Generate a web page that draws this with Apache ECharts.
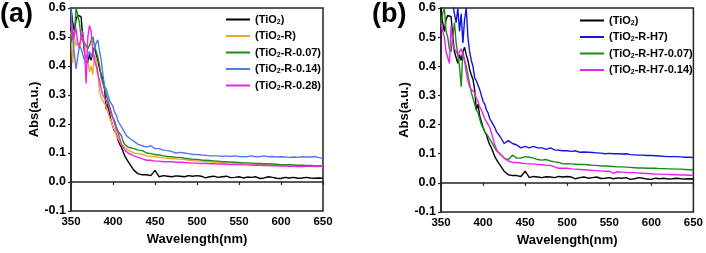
<!DOCTYPE html>
<html><head><meta charset="utf-8">
<script src="https://cdn.jsdelivr.net/npm/echarts@6/dist/echarts.min.js"></script>
<style>html,body{margin:0;padding:0;background:#fff}#c{width:706px;height:253px}</style>
</head><body><div id="c"></div>
<script>
// Wavelength grid (nm)
const wavelength = [350,352,354,356,358,360,362,364,366,368,370,372,374,376,378,380,382,384,386,388,390,392,394,396,398,400,402,404,406,408,410,412,414,416,418,420,
425,430,435,440,445,450,455,460,465,470,475,480,485,490,495,500,505,510,515,520,525,530,535,540,545,550,555,560,565,570,575,580,585,590,595,600,605,610,615,620,625,630,635,640,645,650];

const xTicks = [350,400,450,500,550,600,650];
const yTicks = [-0.1,0,0.1,0.2,0.3,0.4,0.5,0.6];

// Panel (a)
const tio2 = [0.60,0.55,0.52,0.56,0.575,0.575,0.57,0.50,0.45,0.43,0.41,0.44,0.42,0.45,0.465,0.44,0.42,0.39,0.37,0.355,0.32,0.25,0.27,0.23,0.21,0.19,0.175,0.165,0.145,0.13,0.12,0.105,0.09,0.08,0.07,0.062,
0.04,0.028,0.025,0.025,0.022,0.04,0.018,0.022,0.02,0.018,0.021,0.02,0.018,0.022,0.02,0.022,0.02,0.014,0.018,0.02,0.016,0.018,0.02,0.015,0.016,0.018,0.014,0.017,0.016,0.018,0.012,0.014,0.018,0.016,0.013,0.012,0.016,0.014,0.016,0.013,0.014,0.016,0.014,0.013,0.014,0.013];
const tio2R = [0.52,0.41,0.50,0.47,0.48,0.46,0.49,0.50,0.47,0.43,0.42,0.38,0.40,0.37,0.44,0.42,0.38,0.31,0.29,0.28,0.27,0.26,0.24,0.22,0.21,0.19,0.18,0.16,0.15,0.14,0.13,0.125,0.12,0.115,0.11,0.108,
0.10,0.098,0.095,0.09,0.088,0.088,0.085,0.083,0.082,0.08,0.08,0.078,0.078,0.075,0.074,0.073,0.072,0.07,0.07,0.068,0.068,0.066,0.066,0.065,0.064,0.064,0.063,0.062,0.062,0.061,0.06,0.06,0.059,0.058,0.058,0.057,0.057,0.056,0.056,0.055,0.055,0.054,0.054,0.053,0.053,0.052];
const tio2R007 = [0.48,0.52,0.50,0.60,0.60,0.55,0.50,0.49,0.48,0.47,0.46,0.47,0.49,0.50,0.47,0.45,0.43,0.40,0.36,0.34,0.32,0.30,0.28,0.26,0.24,0.22,0.21,0.19,0.175,0.17,0.16,0.14,0.13,0.125,0.12,0.12,
0.115,0.11,0.108,0.1,0.098,0.095,0.093,0.09,0.088,0.087,0.085,0.085,0.082,0.08,0.078,0.078,0.076,0.075,0.074,0.073,0.072,0.07,0.07,0.069,0.068,0.067,0.066,0.066,0.065,0.064,0.064,0.063,0.063,0.062,0.061,0.06,0.06,0.06,0.059,0.058,0.058,0.057,0.057,0.056,0.056,0.055];
const tio2R014 = [0.60,0.50,0.44,0.39,0.39,0.47,0.46,0.44,0.42,0.41,0.44,0.45,0.43,0.44,0.46,0.48,0.49,0.45,0.42,0.37,0.33,0.32,0.30,0.28,0.27,0.26,0.24,0.23,0.21,0.20,0.19,0.195,0.17,0.16,0.155,0.15,
0.14,0.13,0.125,0.12,0.125,0.115,0.115,0.11,0.108,0.105,0.10,0.102,0.10,0.098,0.095,0.095,0.093,0.092,0.09,0.09,0.09,0.088,0.09,0.088,0.09,0.088,0.087,0.088,0.09,0.087,0.088,0.09,0.087,0.088,0.086,0.087,0.086,0.085,0.086,0.085,0.087,0.086,0.086,0.088,0.084,0.082];
const tio2R028 = [0.55,0.49,0.49,0.53,0.48,0.47,0.50,0.52,0.46,0.34,0.50,0.54,0.52,0.45,0.42,0.40,0.37,0.35,0.32,0.30,0.29,0.28,0.27,0.25,0.23,0.22,0.20,0.18,0.17,0.15,0.13,0.12,0.11,0.105,0.10,0.10,
0.09,0.085,0.08,0.075,0.075,0.072,0.072,0.07,0.07,0.07,0.068,0.068,0.067,0.066,0.065,0.065,0.064,0.064,0.063,0.063,0.062,0.062,0.061,0.06,0.06,0.06,0.059,0.059,0.058,0.058,0.058,0.057,0.057,0.056,0.056,0.055,0.055,0.054,0.054,0.053,0.053,0.054,0.054,0.055,0.055,0.055];

// Panel (b)
const tio2RH7 = [0.60,0.62,0.65,0.65,0.65,0.62,0.65,0.65,0.58,0.55,0.60,0.52,0.58,0.48,0.56,0.60,0.50,0.45,0.42,0.40,0.36,0.35,0.35,0.32,0.30,0.28,0.27,0.25,0.24,0.22,0.21,0.20,0.19,0.175,0.17,0.16,
0.135,0.145,0.135,0.13,0.12,0.125,0.12,0.125,0.12,0.12,0.115,0.12,0.113,0.112,0.11,0.11,0.108,0.11,0.105,0.106,0.105,0.104,0.103,0.102,0.1,0.101,0.1,0.1,0.099,0.1,0.097,0.096,0.095,0.095,0.094,0.094,0.093,0.092,0.091,0.09,0.09,0.09,0.089,0.088,0.088,0.087];
const tio2RH7007 = [0.55,0.58,0.60,0.52,0.50,0.46,0.45,0.50,0.55,0.48,0.44,0.40,0.33,0.45,0.42,0.40,0.37,0.34,0.31,0.29,0.27,0.25,0.24,0.22,0.20,0.19,0.175,0.17,0.16,0.15,0.14,0.13,0.12,0.11,0.105,0.10,
0.085,0.08,0.095,0.085,0.085,0.09,0.088,0.085,0.08,0.078,0.08,0.075,0.072,0.07,0.065,0.066,0.065,0.064,0.063,0.063,0.062,0.06,0.06,0.058,0.058,0.057,0.056,0.055,0.055,0.054,0.053,0.052,0.051,0.051,0.05,0.05,0.05,0.049,0.049,0.048,0.048,0.047,0.047,0.046,0.045,0.045];
const tio2RH7014 = [0.55,0.52,0.50,0.45,0.43,0.41,0.54,0.48,0.46,0.45,0.44,0.45,0.46,0.44,0.42,0.38,0.35,0.33,0.32,0.32,0.31,0.29,0.28,0.26,0.25,0.235,0.22,0.21,0.20,0.19,0.17,0.15,0.13,0.115,0.105,0.10,
0.085,0.075,0.07,0.07,0.068,0.066,0.065,0.065,0.063,0.062,0.06,0.06,0.055,0.05,0.05,0.05,0.048,0.047,0.046,0.045,0.044,0.043,0.042,0.041,0.04,0.04,0.033,0.038,0.037,0.036,0.035,0.035,0.034,0.033,0.032,0.031,0.03,0.03,0.029,0.029,0.028,0.028,0.027,0.027,0.026,0.026];

const namesA = ['(TiO2)','(TiO2-R)','(TiO2-R-0.07)','(TiO2-R-0.14)','(TiO2-R-0.28)'];
const valuesA = [tio2,tio2R,tio2R007,tio2R014,tio2R028];
const colorsA = ['#000000','#F0A830','#1E8C1E','#5577EE','#EE22EE'];
const namesB = ['(TiO2) ','(TiO2-R-H7)','(TiO2-R-H7-0.07)','(TiO2-R-H7-0.14)'];
const valuesB = [tio2,tio2RH7,tio2RH7007,tio2RH7014];
const colorsB = ['#000000','#1515D6','#1A8A1A','#EE22EE'];

const FF = '"Liberation Sans", Arial, sans-serif';
const pair = v => wavelength.map((w,i)=>[w,v[i]]);

function xAx(gi){
  return {type:'value', gridIndex:gi, min:350, max:650, interval:50,
    name:'Wavelength(nm)', nameLocation:'middle', nameGap:22,
    nameTextStyle:{fontFamily:FF,fontWeight:'bold',fontSize:13,color:'#000'},
    axisLine:{show:true,lineStyle:{color:'#222',width:1.5}},
    axisTick:{show:true,length:3,lineStyle:{color:'#222',width:1.2}},
    axisLabel:{fontFamily:FF,fontWeight:'bold',fontSize:11.5,color:'#000',margin:5},
    splitLine:{show:false}};
}
function yAx(gi){
  return {type:'value', gridIndex:gi, min:-0.1, max:0.6, interval:0.1,
    name:'Abs(a.u.)', nameLocation:'middle', nameGap:28, nameRotate:90,
    nameTextStyle:{fontFamily:FF,fontWeight:'bold',fontSize:13,color:'#000'},
    axisLine:{show:true,lineStyle:{color:'#222',width:1.5}},
    axisTick:{show:true,length:3,lineStyle:{color:'#222',width:1.2}},
    axisLabel:{fontFamily:FF,fontWeight:'bold',fontSize:12.5,color:'#000',margin:5,formatter:v=>v.toFixed(1)},
    splitLine:{show:false}};
}
const legendText = {fontFamily:FF,fontWeight:'bold',fontSize:11,color:'#000',
  rich:{sub:{fontFamily:FF,fontWeight:'bold',fontSize:7,color:'#000',verticalAlign:'bottom',padding:[5,0,0,0]}}};
const fmt = n => n.trim().replace('TiO2','TiO{sub|2}');

const series = [];
namesA.forEach((n,i)=>series.push({name:n,type:'line',xAxisIndex:0,yAxisIndex:0,data:pair(valuesA[i]),
  showSymbol:false,color:colorsA[i],lineStyle:{width:1.4,color:colorsA[i]},animation:false,clip:true}));
namesB.forEach((n,i)=>series.push({name:n,type:'line',xAxisIndex:1,yAxisIndex:1,data:pair(valuesB[i]),
  showSymbol:false,color:colorsB[i],lineStyle:{width:1.4,color:colorsB[i]},animation:false,clip:true}));

const chart = echarts.init(document.getElementById('c'),null,{renderer:'canvas'});
chart.setOption({
  backgroundColor:'#fff',
  animation:false,
  grid:[
    {left:71,right:383,top:8,bottom:42,show:true,borderColor:'#222',borderWidth:1.5},
    {left:441,right:12,top:8,bottom:41,show:true,borderColor:'#222',borderWidth:1.5}
  ],
  xAxis:[xAx(0),xAx(1)],
  yAxis:[yAx(0),yAx(1)],
  legend:[
    {data:namesA,orient:'vertical',left:226,top:14,itemWidth:24,itemHeight:2,icon:'rect',itemGap:5,
     textStyle:legendText,formatter:fmt,padding:0},
    {data:namesB,orient:'vertical',left:580,top:15,itemWidth:24,itemHeight:2,icon:'rect',itemGap:5,
     textStyle:legendText,formatter:fmt,padding:0}
  ],
  graphic:[
    {type:'text',left:0,top:1,style:{text:'(a)',fontFamily:FF,fontWeight:'bold',fontSize:27,fill:'#000'}},
    {type:'text',left:372,top:1,style:{text:'(b)',fontFamily:FF,fontWeight:'bold',fontSize:27,fill:'#000'}}
  ],
  series:series
});
</script></body></html>
